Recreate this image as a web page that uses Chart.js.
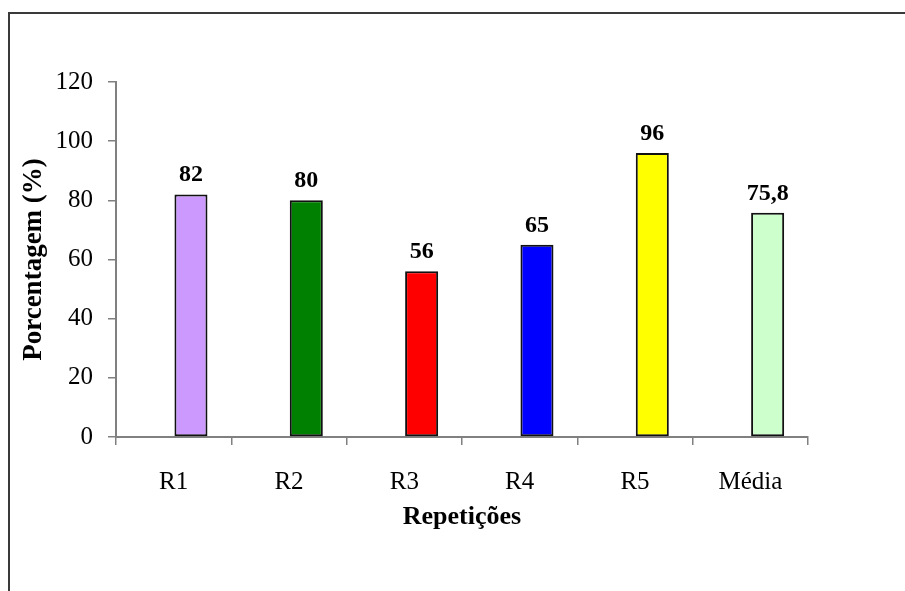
<!DOCTYPE html>
<html>
<head>
<meta charset="utf-8">
<script src="https://cdn.jsdelivr.net/npm/chart.js@4.4.1/dist/chart.umd.min.js"></script>
<style>
  html, body { margin: 0; padding: 0; background: #fff; }
  #wrap { position: relative; width: 905px; height: 591px; }
</style>
</head>
<body>
<div id="wrap"><canvas id="chart"></canvas></div>
<script>
// chart data
const categories = ['R1', 'R2', 'R3', 'R4', 'R5', 'Média'];
const values = [82, 80, 56, 65, 96, 75.8];
const barColors = ['#CC99FF', '#008000', '#FF0000', '#0000FF', '#FFFF00', '#CCFFCC'];
const yTicks = [0, 20, 40, 60, 80, 100, 120];

const axisGray = '#808080';

// frame like the pasted Excel object (top and left edges only)
const framePlugin = {
    id: 'frame',
    afterDraw(chart) {
        const ctx = chart.ctx;
        ctx.save();
        ctx.strokeStyle = '#3a3a3a';
        ctx.lineWidth = 2;
        ctx.beginPath();
        ctx.moveTo(9, 591);
        ctx.lineTo(9, 13);
        ctx.lineTo(905, 13);
        ctx.stroke();
        ctx.restore();
    }
};

// value labels above bars
const valueLabels = {
    id: 'valueLabels',
    afterDatasetsDraw(chart) {
        const ctx = chart.ctx;
        const meta = chart.getDatasetMeta(1);
        ctx.save();
        ctx.font = 'bold 24px "Liberation Serif", "Times New Roman", serif';
        ctx.fillStyle = '#000';
        ctx.textAlign = 'center';
        ctx.textBaseline = 'alphabetic';
        meta.data.forEach(function(bar, i) {
            const txt = String(values[i]).replace('.', ',');
            ctx.fillText(txt, bar.x, bar.y - 13);
        });
        ctx.restore();
    }
};

const ctx = document.getElementById('chart').getContext('2d');
const chart = new Chart(ctx, {
    type: 'bar',
    data: {
        labels: categories,
        datasets: [{
            // empty spacer series, keeps the bars right of the category centre
            label: '',
            data: categories.map(() => null)
        }, {
            label: 'Porcentagem',
            data: values,
            backgroundColor: barColors,
            borderColor: '#111',
            borderWidth: 2,
            borderSkipped: false
        }]
    },
    options: {
        responsive: true,
        maintainAspectRatio: false,
        animation: false,
        categoryPercentage: 0.6,
        barPercentage: 0.955,
        layout: {
            padding: { left: 0, top: 82, right: 97, bottom: 0 }
        },
        plugins: {
            legend: { display: false },
            tooltip: { enabled: false }
        },
        scales: {
            x: {
                grid: {
                    offset: true,
                    drawOnChartArea: false,
                    drawTicks: true,
                    tickLength: 8,
                    lineWidth: 1.5,
                    color: axisGray
                },
                border: { color: axisGray, width: 2 },
                ticks: {
                    color: '#000',
                    padding: 22,
                    font: { family: '"Liberation Serif", serif', size: 25 }
                },
                title: {
                    display: true,
                    text: 'Repetições',
                    color: '#000',
                    padding: { top: 0, bottom: 58 },
                    font: { family: '"Liberation Serif", serif', size: 26, weight: 'bold' }
                },
                afterFit: function(scale) { scale.height = 154; }
            },
            y: {
                min: 0,
                max: 120,
                afterBuildTicks: function(scale) {
                    scale.ticks = yTicks.map(v => ({ value: v }));
                },
                grid: {
                    drawOnChartArea: false,
                    drawTicks: true,
                    tickLength: 8,
                    lineWidth: 1.5,
                    color: axisGray
                },
                border: { color: axisGray, width: 2 },
                ticks: {
                    color: '#000',
                    padding: 15,
                    font: { family: '"Liberation Serif", serif', size: 25 }
                },
                title: {
                    display: true,
                    text: 'Porcentagem (%)',
                    color: '#000',
                    padding: { top: 18, bottom: 0 },
                    font: { family: '"Liberation Serif", serif', size: 27, weight: 'bold' }
                },
                afterFit: function(scale) { scale.width = 116; }
            }
        }
    },
    plugins: [framePlugin, valueLabels]
});
</script>
</body>
</html>
